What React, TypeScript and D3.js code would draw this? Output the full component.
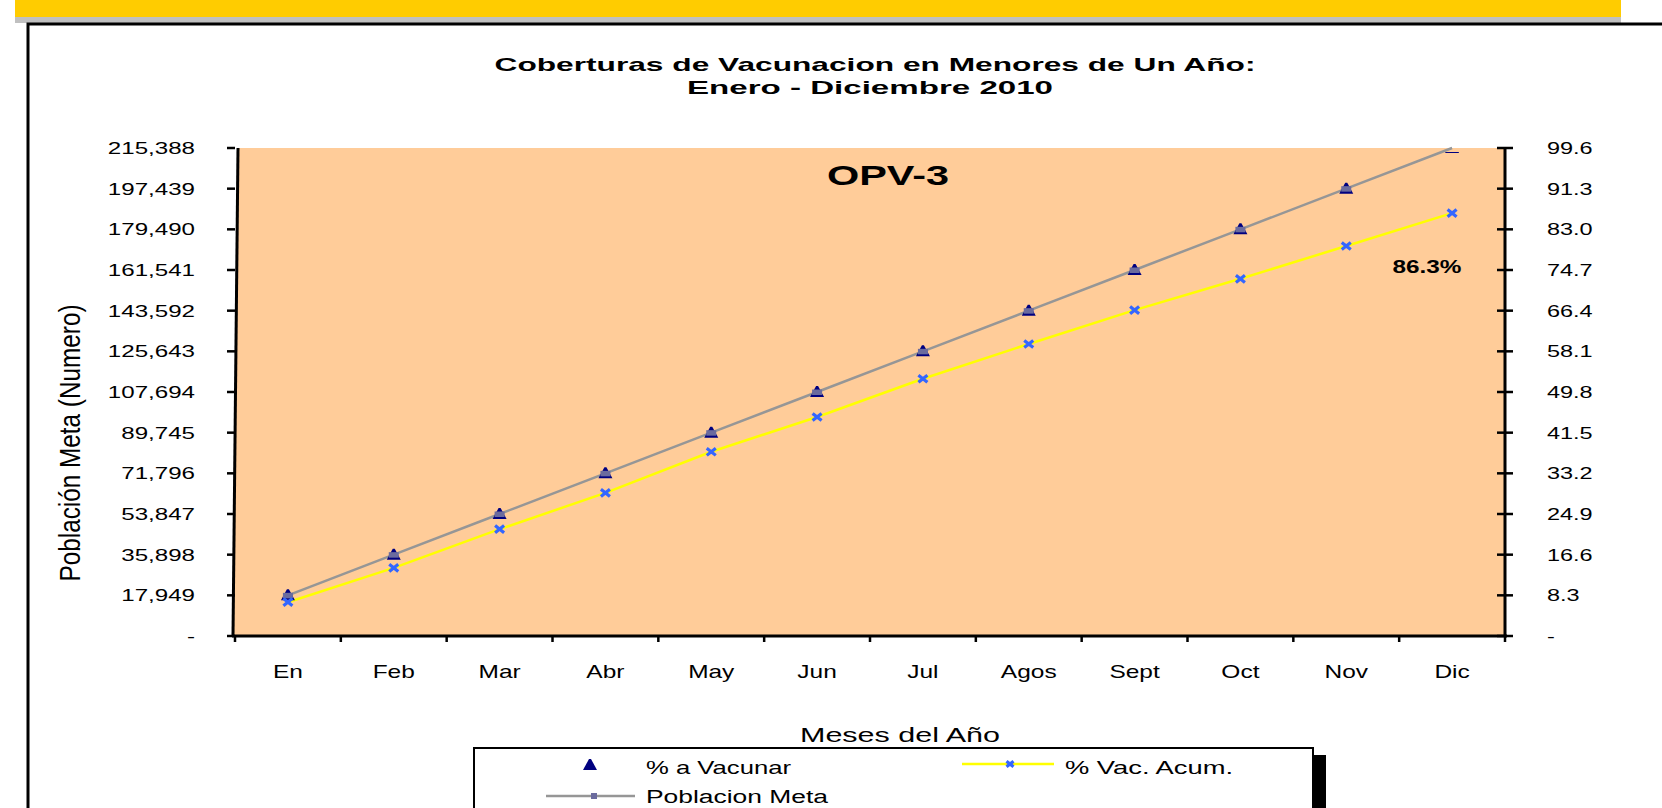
import React from "react";
import * as d3 from "d3";

// data
const months = ["En", "Feb", "Mar", "Abr", "May", "Jun", "Jul", "Agos", "Sept", "Oct", "Nov", "Dic"];
const poblacionMeta = [17949, 35898, 53847, 71796, 89745, 107694, 125643, 143592, 161541, 179490, 197439, 215388];
const pctVacunar = [8.3, 16.6, 24.9, 33.2, 41.5, 49.8, 58.1, 66.4, 74.7, 83.0, 91.3, 99.6];
const pctVacAcum = [6.9, 13.9, 21.8, 29.2, 37.6, 44.7, 52.5, 59.6, 66.5, 72.9, 79.6, 86.3];
const leftTicks = [0, 17949, 35898, 53847, 71796, 89745, 107694, 125643, 143592, 161541, 179490, 197439, 215388];
const rightTicks = [0, 8.3, 16.6, 24.9, 33.2, 41.5, 49.8, 58.1, 66.4, 74.7, 83.0, 91.3, 99.6];

const FONT = "'Liberation Sans', Arial, sans-serif";
const SX = 1.4; // the original chart is stretched horizontally

// plot box
const plot = { left: 235, right: 1505, top: 148, bottom: 636 };

function SText(props: any) {
	const { x, y, sx = SX, anchor = "middle", size = 17, weight = "normal", children, ...rest } = props;
	return (
		<text
			transform={`translate(${x},${y}) scale(${sx},1)`}
			textAnchor={anchor}
			fontSize={size}
			fontWeight={weight}
			fontFamily={FONT}
			fill="#000"
			{...rest}
		>
			{children}
		</text>
	);
}

function TriMarker({ cx, cy, square = true }: { cx: number; cy: number; square?: boolean }) {
	return (
		<g>
			<path d={`M${cx - 7},${cy + 5} L${cx - 1},${cy - 6} L${cx + 1},${cy - 6} L${cx + 7},${cy + 5} Z`} fill="#000080" />
			{square && <rect x={cx - 5} y={cy - 2.5} width={10} height={5.5} fill="#6b6b9e" />}
		</g>
	);
}

function XMarker({ cx, cy, r = 4.5 }: { cx: number; cy: number; r?: number }) {
	return (
		<path
			d={`M${cx - r},${cy - r * 0.8} L${cx + r},${cy + r * 0.8} M${cx - r},${cy + r * 0.8} L${cx + r},${cy - r * 0.8}`}
			stroke="#3366ff"
			strokeWidth={3.2}
		/>
	);
}

export default function App() {
	const x = d3.scaleBand().domain(months).range([plot.left, plot.right]);
	const yLeft = d3.scaleLinear().domain([0, 215388]).range([plot.bottom, plot.top]);
	const yRight = d3.scaleLinear().domain([0, 99.6]).range([plot.bottom, plot.top]);
	const cx = (m: string) => (x(m) as number) + x.bandwidth() / 2;

	const fmtLeft = (v: number) => (v === 0 ? "-" : d3.format(",")(v));
	const fmtRight = (v: number) => (v === 0 ? "-" : d3.format(".1f")(v));

	const metaLine = d3
		.line<number>()
		.x((_, i) => cx(months[i]))
		.y((d) => yLeft(d))(poblacionMeta);
	const acumLine = d3
		.line<number>()
		.x((_, i) => cx(months[i]))
		.y((d) => yRight(d))(pctVacAcum);

	const bottomTicks = d3.range(months.length + 1).map((i) => plot.left + i * x.step());

	return (
		<svg
			width={1662}
			height={808}
			style={{ position: "fixed", left: 0, top: 0, display: "block", background: "#fff" }}
		>
			{/* page header strip */}
			<rect x={15} y={0} width={1606} height={17} fill="#ffcc00" />
			<rect x={15} y={17} width={1606} height={6} fill="#c0c0c0" />
			{/* chart frame */}
			<rect x={28} y={24} width={1660} height={820} fill="#fff" stroke="#000" strokeWidth={3} />

			{/* title */}
			<text x={875} y={71} textAnchor="middle" fontFamily={FONT} fontWeight="bold" fontSize={19}
				textLength={761} lengthAdjust="spacingAndGlyphs">
				Coberturas de Vacunacion en Menores de Un Año:
			</text>
			<text x={870} y={94} textAnchor="middle" fontFamily={FONT} fontWeight="bold" fontSize={19}
				textLength={366} lengthAdjust="spacingAndGlyphs">
				Enero - Diciembre 2010
			</text>

			{/* plot area */}
			<path
				d={`M${plot.left + 3},${plot.top} L${plot.right},${plot.top} L${plot.right},${plot.bottom} L${plot.left - 2},${plot.bottom} Z`}
				fill="#ffcc99"
			/>

			<text x={888} y={185} textAnchor="middle" fontFamily={FONT} fontWeight="bold" fontSize={28}
				textLength={122} lengthAdjust="spacingAndGlyphs">
				OPV-3
			</text>

			<clipPath id="plotClip">
				<rect x={plot.left} y={plot.top + 4} width={plot.right - plot.left} height={plot.bottom - plot.top} />
			</clipPath>

			{/* series */}
			<path d={metaLine as string} fill="none" stroke="#969696" strokeWidth={2.5} />
			<path d={acumLine as string} fill="none" stroke="#ffff00" strokeWidth={2.5} />
			<g clipPath="url(#plotClip)">
				{pctVacunar.map((v, i) => (
					<TriMarker key={"t" + i} cx={cx(months[i])} cy={yRight(v)} />
				))}
			</g>
			{pctVacAcum.map((v, i) => (
				<XMarker key={"x" + i} cx={cx(months[i])} cy={yRight(v)} />
			))}

			<text x={1427} y={273} textAnchor="middle" fontFamily={FONT} fontWeight="bold" fontSize={17.5}
				textLength={69} lengthAdjust="spacingAndGlyphs">
				{pctVacAcum[pctVacAcum.length - 1].toFixed(1)}%
			</text>

			{/* left axis */}
			<line x1={plot.left + 3} y1={plot.top} x2={plot.left - 2} y2={plot.bottom} stroke="#000" strokeWidth={3} />
			{leftTicks.map((t) => (
				<g key={"l" + t}>
					<line x1={plot.left - 8} x2={plot.left} y1={yLeft(t)} y2={yLeft(t)} stroke="#000" strokeWidth={2.5} />
					<SText x={195} y={yLeft(t) + 6} anchor="end" size={17} sx={1.42}>
						{fmtLeft(t)}
					</SText>
				</g>
			))}

			{/* right axis */}
			<line x1={plot.right} y1={plot.top} x2={plot.right} y2={plot.bottom} stroke="#000" strokeWidth={3} />
			{rightTicks.map((t) => (
				<g key={"r" + t}>
					<line x1={plot.right - 8} x2={plot.right + 8} y1={yRight(t)} y2={yRight(t)} stroke="#000" strokeWidth={2.5} />
					<SText x={1547} y={yRight(t) + 6} anchor="start" size={17} sx={1.38}>
						{fmtRight(t)}
					</SText>
				</g>
			))}

			{/* bottom axis */}
			<line x1={plot.left - 3} x2={plot.right + 2} y1={plot.bottom} y2={plot.bottom} stroke="#000" strokeWidth={3} />
			{bottomTicks.map((bx, i) => (
				<line key={"b" + i} x1={bx} x2={bx} y1={plot.bottom} y2={plot.bottom + 6} stroke="#000" strokeWidth={2.5} />
			))}
			{months.map((m) => (
				<SText key={m} x={cx(m)} y={678} size={17.5}>
					{m}
				</SText>
			))}

			{/* axis titles */}
			<text x={900} y={742} textAnchor="middle" fontFamily={FONT} fontSize={21}
				textLength={200} lengthAdjust="spacingAndGlyphs">
				Meses del Año
			</text>
			<text
				transform="translate(80,443) rotate(-90) scale(1,1.3)"
				textAnchor="middle"
				fontFamily={FONT}
				fontSize={23}
				textLength={277}
				lengthAdjust="spacingAndGlyphs"
			>
				Población Meta (Numero)
			</text>

			{/* legend */}
			<rect x={1314} y={755} width={12} height={70} fill="#000" />
			<rect x={474} y={748} width={839} height={80} fill="#fff" stroke="#000" strokeWidth={2} />
			<TriMarker cx={590} cy={765} square={false} />
			<text x={646} y={774} fontFamily={FONT} fontSize={18.5} textLength={145} lengthAdjust="spacingAndGlyphs">
				% a Vacunar
			</text>
			<line x1={962} x2={1054} y1={764} y2={764} stroke="#ffff00" strokeWidth={2.5} />
			<XMarker cx={1010} cy={764} r={3.5} />
			<text x={1065} y={774} fontFamily={FONT} fontSize={18.5} textLength={168} lengthAdjust="spacingAndGlyphs">
				% Vac. Acum.
			</text>
			<line x1={546} x2={635} y1={796} y2={796} stroke="#969696" strokeWidth={2.5} />
			<rect x={591} y={793} width={6} height={6} fill="#6b6b9e" />
			<text x={646} y={803} fontFamily={FONT} fontSize={18} textLength={182} lengthAdjust="spacingAndGlyphs">
				Poblacion Meta
			</text>
		</svg>
	);
}
